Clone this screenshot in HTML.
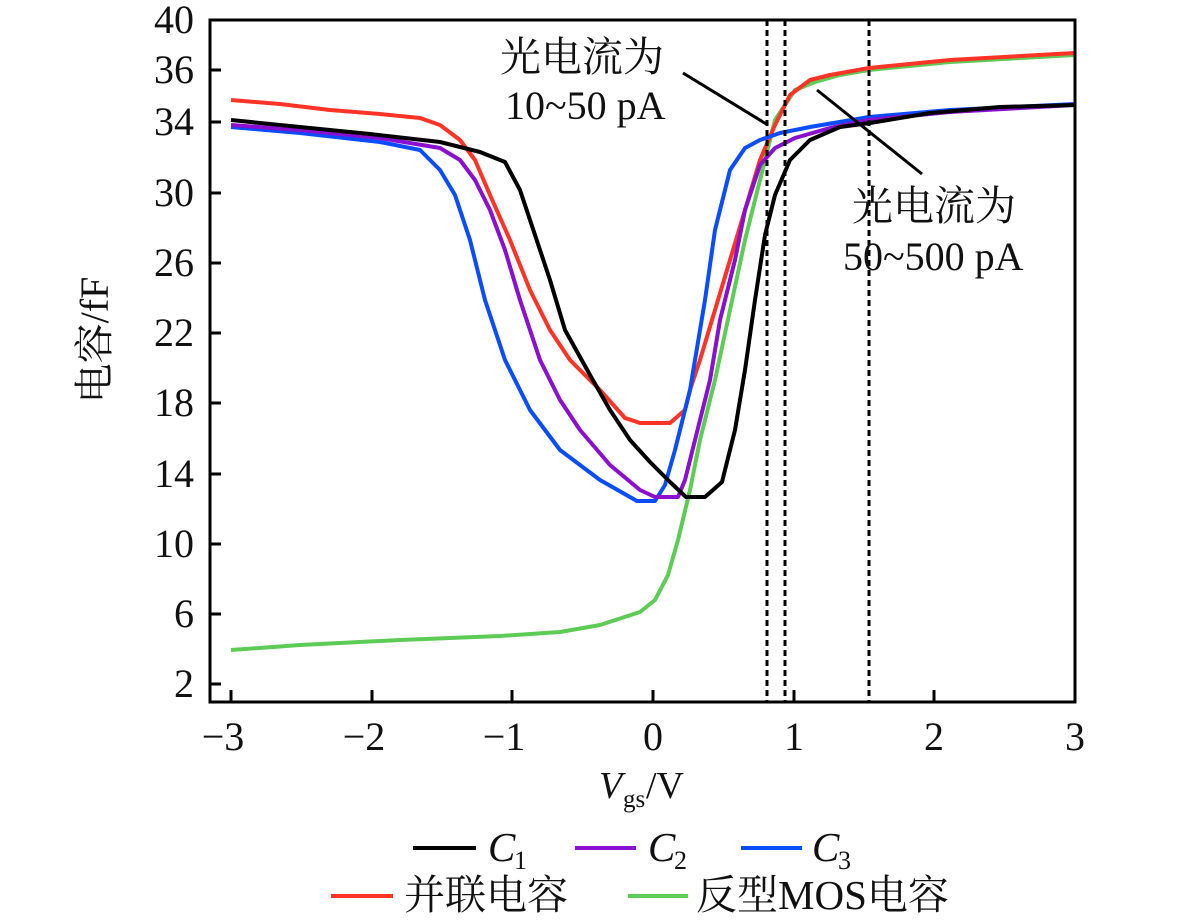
<!DOCTYPE html>
<html><head><meta charset="utf-8"><style>
html,body{margin:0;padding:0;background:#fff;}
svg{display:block;}
text{font-family:"Liberation Serif","Noto Serif CJK SC",serif;fill:#111;}
</style></head><body>
<svg width="1181" height="923" viewBox="0 0 1181 923" xmlns="http://www.w3.org/2000/svg">
<g fill="none" stroke-width="4" stroke-linejoin="round">
<polyline stroke="#5ccc55" points="231,650 300,645 400,640 500,636 560,632 600,625 640,612 655,600 668,575 678,540 690,490 700,440 715,380 730,310 745,240 760,180 775,120 795,90 815,82 840,75 869,70 950,62 1075,55"/>
<polyline stroke="#ff3326" points="231,100 280,104 330,110 380,114 420,118 440,125 460,140 475,160 490,195 510,240 530,290 550,330 570,360 600,390 625,418 640,423 670,423 685,410 690,390 700,360 715,310 730,260 745,210 760,160 775,125 790,95 810,80 830,75 869,68 950,60 1075,53"/>
<polyline stroke="#0a4cff" points="231,127 300,133 380,142 420,150 440,170 455,195 470,240 485,300 505,360 530,410 560,450 600,480 637,501 655,501 665,485 675,450 690,390 705,300 715,230 730,170 745,148 760,140 780,133 810,127 869,117 950,110 1075,104"/>
<polyline stroke="#8a0fcf" points="231,125 300,130 380,138 440,148 460,160 475,180 490,210 505,250 520,300 540,360 560,400 580,430 610,465 640,490 655,497 678,497 685,480 695,440 710,380 720,320 735,260 745,210 760,165 775,148 795,138 830,128 869,120 950,112 1075,105"/>
<polyline stroke="#000" points="231,120 300,127 370,134 440,142 480,152 505,162 520,190 535,235 550,280 565,330 590,375 610,410 630,440 650,462 670,482 686,497 705,497 722,482 735,430 745,370 755,300 765,235 775,195 790,160 810,140 840,127 870,123 930,113 1000,107 1075,105"/>
</g>
<g stroke="#000" stroke-width="3" stroke-dasharray="6,4">
<line x1="767" y1="20" x2="767" y2="702"/>
<line x1="785" y1="20" x2="785" y2="702"/>
<line x1="869" y1="20" x2="869" y2="702"/>
</g>
<g stroke="#000" stroke-width="3">
<line x1="683" y1="73" x2="768" y2="125"/>
<line x1="817" y1="90" x2="922" y2="174"/>
</g>
<rect x="210" y="20" width="865" height="682" fill="none" stroke="#000" stroke-width="3"/>
<g stroke="#000" stroke-width="3">
<line x1="210" y1="684" x2="221" y2="684"/>
<line x1="210" y1="614" x2="221" y2="614"/>
<line x1="210" y1="544" x2="221" y2="544"/>
<line x1="210" y1="474" x2="221" y2="474"/>
<line x1="210" y1="403" x2="221" y2="403"/>
<line x1="210" y1="333" x2="221" y2="333"/>
<line x1="210" y1="263" x2="221" y2="263"/>
<line x1="210" y1="193" x2="221" y2="193"/>
<line x1="210" y1="122" x2="221" y2="122"/>
<line x1="210" y1="70" x2="221" y2="70"/>
<line x1="231" y1="702" x2="231" y2="690"/>
<line x1="372" y1="702" x2="372" y2="690"/>
<line x1="512" y1="702" x2="512" y2="690"/>
<line x1="653" y1="702" x2="653" y2="690"/>
<line x1="794" y1="702" x2="794" y2="690"/>
<line x1="934" y1="702" x2="934" y2="690"/>
</g>
<g font-size="40" text-anchor="end">
<text x="194" y="697">2</text>
<text x="194" y="627">6</text>
<text x="194" y="557">10</text>
<text x="194" y="487">14</text>
<text x="194" y="416">18</text>
<text x="194" y="346">22</text>
<text x="194" y="276">26</text>
<text x="194" y="206">30</text>
<text x="194" y="135">34</text>
<text x="194" y="83">36</text>
<text x="194" y="33">40</text>
</g>
<g font-size="40" text-anchor="middle">
<text x="223" y="750">−3</text>
<text x="364" y="750">−2</text>
<text x="504" y="750">−1</text>
<text x="653" y="750">0</text>
<text x="794" y="750">1</text>
<text x="934" y="750">2</text>
<text x="1075" y="750">3</text>
</g>
<text x="599" y="798" font-size="38" font-style="italic">V</text>
<text x="623" y="807" font-size="25">gs</text>
<text x="646" y="798" font-size="38">/V</text>
<text transform="translate(108,340) rotate(-90)" font-size="40" text-anchor="middle">电容/fF</text>
<text x="500" y="71" font-size="41">光电流为</text>
<text x="505" y="119" font-size="40">10~50 pA</text>
<text x="852" y="220" font-size="41">光电流为</text>
<text x="843" y="270" font-size="40">50~500 pA</text>
<g stroke-width="4">
<line x1="413" y1="848" x2="476" y2="848" stroke="#000"/>
<line x1="575" y1="848" x2="636" y2="848" stroke="#8a0fcf"/>
<line x1="741" y1="848" x2="802" y2="848" stroke="#0a4cff"/>
<line x1="331" y1="896" x2="393" y2="896" stroke="#ff3326"/>
<line x1="628" y1="896" x2="688" y2="896" stroke="#5ccc55"/>
</g>
<g font-size="41">
<text x="488" y="861" font-style="italic">C</text><text x="514" y="869" font-size="26">1</text>
<text x="648" y="861" font-style="italic">C</text><text x="674" y="869" font-size="26">2</text>
<text x="812" y="861" font-style="italic">C</text><text x="838" y="869" font-size="26">3</text>
<text x="404" y="909">并联电容</text>
<text x="696" y="909">反型MOS电容</text>
</g>
</svg>
</body></html>
